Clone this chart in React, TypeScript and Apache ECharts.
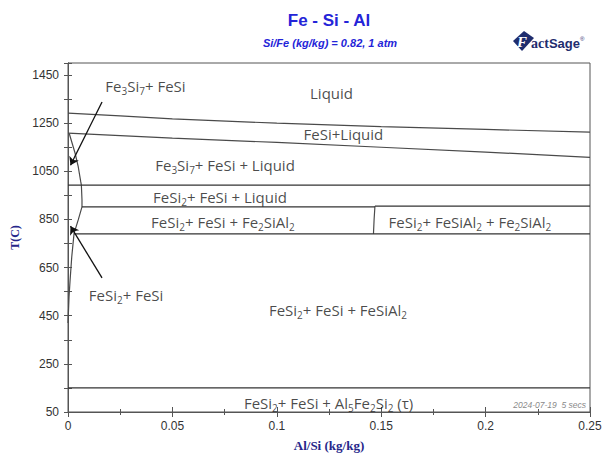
import React, { useEffect, useRef } from "react";
import * as echarts from "echarts";

// Axis ranges
const T_MIN = 50;
const T_MAX = 1500;
const X_MIN = 0;
const X_MAX = 0.25;

// Phase boundaries (x = Al/Si kg/kg, T in °C)
const upperLiquidusX = [0, 0.025, 0.05, 0.1, 0.15, 0.2, 0.25];
const upperLiquidusT = [1292, 1280, 1268, 1250, 1236, 1224, 1213];
const lowerLiquidusX = [0, 0.025, 0.05, 0.1, 0.15, 0.2, 0.25];
const lowerLiquidusT = [1209, 1198, 1188, 1170, 1150, 1130, 1108];
const fe3si7BoundaryX = [0.0006, 0.0034, 0.0049, 0.0061, 0.0064, 0.0067, 0.0067];
const fe3si7BoundaryT = [1207, 1125, 1069, 1007, 993, 931, 902];
const fesi2BoundaryX = [0.0067, 0.0049, 0.0029, 0.0018, 0.001, 0.0005, 0];
const fesi2BoundaryT = [902, 848, 792, 695, 598, 529, 420];
const fe2sial2BoundaryX = [0.147, 0.1466, 0.1463];
const fe2sial2BoundaryT = [905, 850, 790];

// Isotherms
const isoT = [993, 902, 905, 790, 150];
const isoFromX = [0, 0.0067, 0.147, 0.0029, 0];
const isoToX = [0.25, 0.147, 0.25, 0.25, 0.25];

// Arrows
const arrowFromX = [0.0163, 0.0163];
const arrowFromT = [1338, 607];
const arrowToX = [0.0012, 0.0012];
const arrowToT = [1075, 822];

// Region labels
const labelText = [
  "Fe{s|3}Si{s|7}+ FeSi",
  "Liquid",
  "FeSi+Liquid",
  "Fe{s|3}Si{s|7}+ FeSi + Liquid",
  "FeSi{s|2}+ FeSi + Liquid",
  "FeSi{s|2}+ FeSi + Fe{s|2}SiAl{s|2}",
  "FeSi{s|2}+ FeSiAl{s|2} + Fe{s|2}SiAl{s|2}",
  "FeSi{s|2}+ FeSi",
  "FeSi{s|2}+ FeSi + FeSiAl{s|2}",
  "FeSi{s|2}+ FeSi + Al{s|5}Fe{s|2}Si{s|2} (τ)",
];
const labelX = [0.0371, 0.1262, 0.1319, 0.0752, 0.0728, 0.0742, 0.1925, 0.0278, 0.1293, 0.1248];
const labelT = [1405, 1375, 1205, 1076, 943, 839, 839, 536, 474, 87];

const LABEL_FONT = "Open Sans";
const LINE_COLOR = "#4a4a4a";

const pts = (xs: number[], ts: number[]) => xs.map((x, i) => [x, ts[i] - T_MIN]);

export default function App() {
  const ref = useRef<HTMLDivElement>(null);

  useEffect(() => {
    document.body.style.margin = "0";
    if (!ref.current) return;
    const chart = echarts.init(ref.current, undefined, { renderer: "svg" });

    const boundary = (xs: number[], ts: number[], color = LINE_COLOR) => ({
      type: "line",
      data: pts(xs, ts),
      showSymbol: false,
      symbol: "none",
      silent: true,
      lineStyle: { color, width: 1.2 },
    });

    const isoSeries = isoT.map((t, i) => boundary([isoFromX[i], isoToX[i]], [t, t], "#333"));

    const axisCommonX = {
      type: "value",
      min: X_MIN,
      max: X_MAX,
      interval: 0.05,
      splitLine: { show: false },
      axisTick: { inside: true, length: 5, lineStyle: { color: "#555" } },
      minorTick: { show: true, splitNumber: 2, length: 3, lineStyle: { color: "#555" } },
      axisLine: { lineStyle: { color: "#555" } },
    };
    const axisCommonY = {
      type: "value",
      min: 0,
      max: T_MAX - T_MIN,
      interval: 100,
      splitLine: { show: false },
      axisTick: { inside: true, length: 4, lineStyle: { color: "#555" } },
      axisLine: { lineStyle: { color: "#555" } },
    };

    const option: any = {
      animation: false,
      grid: {
        left: 68,
        right: 12,
        top: 63,
        bottom: 42,
        containLabel: false,
        outerBoundsMode: "none",
        show: true,
        borderColor: "#555",
        borderWidth: 1,
        backgroundColor: "transparent",
      },
      xAxis: [
        {
          ...axisCommonX,
          position: "bottom",
          axisLabel: { color: "#333", fontSize: 12, margin: 8, fontFamily: "Liberation Sans" },
          name: "Al/Si (kg/kg)",
          nameLocation: "middle",
          nameGap: 27,
          nameTextStyle: { fontFamily: "Liberation Serif", fontWeight: "bold", fontSize: 13, color: "#26268a" },
        },
        { ...axisCommonX, position: "top", axisLabel: { show: false } },
      ],
      yAxis: [
        {
          ...axisCommonY,
          position: "left",
          axisLabel: {
            color: "#333",
            fontSize: 12,
            margin: 9,
            fontFamily: "Liberation Sans",
            formatter: (v: number) => (Math.round(v) % 200 === 0 ? String(Math.round(v) + T_MIN) : ""),
          },
          name: "T(C)",
          nameLocation: "middle",
          nameGap: 43,
          nameRotate: 90,
          nameTextStyle: { fontFamily: "Liberation Serif", fontWeight: "bold", fontSize: 12, color: "#26268a" },
        },
        { ...axisCommonY, position: "right", axisLabel: { show: false } },
      ],
      series: [
        boundary(upperLiquidusX, upperLiquidusT),
        boundary(lowerLiquidusX, lowerLiquidusT),
        boundary(fe3si7BoundaryX, fe3si7BoundaryT),
        boundary(fesi2BoundaryX, fesi2BoundaryT),
        boundary(fe2sial2BoundaryX, fe2sial2BoundaryT),
        ...isoSeries,
        {
          type: "line",
          data: [],
          silent: true,
          markLine: {
            silent: true,
            symbol: ["none", "arrow"],
            symbolSize: 8,
            label: { show: false },
            lineStyle: { color: "#111", width: 1.3, type: "solid" },
            data: arrowFromX.map((x, i) => [
              { coord: [x, arrowFromT[i] - T_MIN] },
              { coord: [arrowToX[i], arrowToT[i] - T_MIN] },
            ]),
          },
        },
        {
          type: "scatter",
          symbolSize: 0,
          silent: true,
          data: labelText.map((t, i) => ({ name: t, value: [labelX[i], labelT[i] - T_MIN] })),
          label: {
            show: true,
            position: "inside",
            formatter: (p: any) => p.name,
            color: "#1a1a1a",
            fontSize: 15,
            fontFamily: LABEL_FONT,
            lineHeight: 20,
            rich: {
              s: { fontSize: 10, fontFamily: LABEL_FONT, color: "#1a1a1a", verticalAlign: "bottom", lineHeight: 13 },
            },
          },
        },
      ],
      graphic: [
        {
          type: "text",
          x: 329,
          y: 20,
          style: { text: "Fe - Si - Al", fontSize: 17, fontWeight: "bold", fontFamily: "Liberation Sans", fill: "#2424d8", align: "center", verticalAlign: "middle" },
        },
        {
          type: "text",
          x: 330,
          y: 43,
          style: { text: "Si/Fe (kg/kg) = 0.82, 1 atm", fontSize: 11, fontWeight: "bold", fontStyle: "italic", fontFamily: "Liberation Sans", fill: "#2424d8", align: "center", verticalAlign: "middle" },
        },
        {
          type: "text",
          x: 586,
          y: 405,
          style: { text: "2024-07-19  5 secs", fontSize: 8.5, fontStyle: "italic", fontFamily: "Liberation Sans", fill: "#8a8a8a", align: "right", verticalAlign: "middle" },
        },
        {
          type: "polygon",
          shape: { points: [[513, 41], [524, 31], [534, 38], [522, 51]] },
          style: { fill: "#1f2d6e" },
        },
        {
          type: "text",
          x: 517,
          y: 42,
          style: { text: "F", fontSize: 15, fontWeight: "bold", fontStyle: "italic", fontFamily: "Liberation Serif", fill: "#ffffff", verticalAlign: "middle" },
        },
        {
          type: "text",
          x: 531,
          y: 43,
          style: {
            text: "{a|act}{b|Sage}{r|®}",
            verticalAlign: "middle",
            rich: {
              a: { fontSize: 14, fontWeight: "bold", fontFamily: "Liberation Serif", fill: "#1f2d6e" },
              b: { fontSize: 13, fontWeight: "bold", fontFamily: "Liberation Sans Narrow, Liberation Sans", fill: "#1f2d6e" },
              r: { fontSize: 6, fontFamily: "Liberation Sans", fill: "#1f2d6e", verticalAlign: "top" },
            },
          },
        },
      ],
    };

    chart.setOption(option);
    return () => chart.dispose();
  }, []);

  return <div ref={ref} style={{ width: 602, height: 454 }} />;
}
